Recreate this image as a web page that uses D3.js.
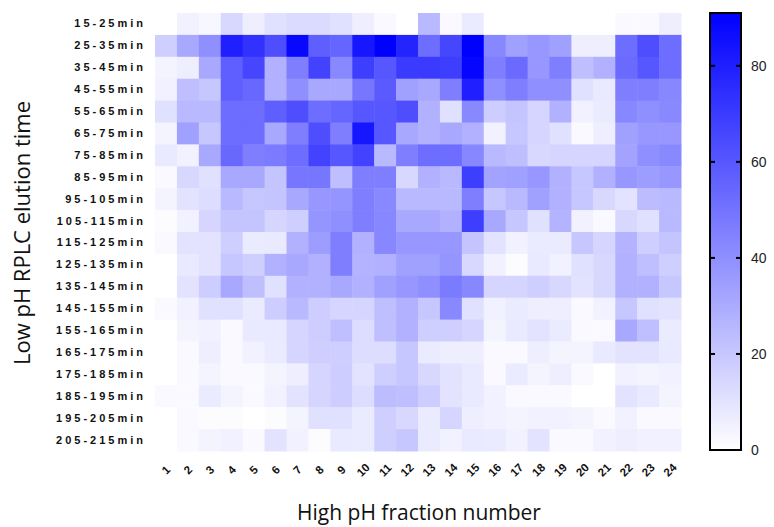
<!DOCTYPE html>
<html>
<head>
<meta charset="utf-8">
<script src="https://cdn.jsdelivr.net/npm/d3@7"></script>
<style>
    body { margin: 0; background: #fff; }
    svg { display: block; }
</style>
</head>
<body>
<div id="chart"></div>
<script>
// rows = low pH RPLC elution window, columns = high pH fraction
const rowLabels = ["15-25min","25-35min","35-45min","45-55min","55-65min","65-75min","75-85min",
    "85-95min","95-105min","105-115min","115-125min","125-135min","135-145min","145-155min",
    "155-165min","165-175min","175-185min","185-195min","195-205min","205-215min"];

const fractions = ["1","2","3","4","5","6","7","8","9","10","11","12",
    "13","14","15","16","17","18","19","20","21","22","23","24"];

const cbTicks = [0, 20, 40, 60, 80];
const cbMax = 91;

const values = [
    [0,5,3,14,6,11,13,13,11,6,2,0,25,2,7,0,0,0,0,0,0,2,2,6],
    [17,31,40,80,73,63,88,57,55,83,91,78,52,66,91,43,34,37,34,6,6,52,63,52],
    [4,6,31,57,66,28,46,67,42,69,60,70,70,69,89,46,53,37,46,23,28,53,60,52],
    [5,23,20,57,54,28,40,31,31,49,59,34,31,46,80,40,46,40,40,11,8,46,46,43],
    [11,25,25,52,52,57,63,52,55,60,60,63,28,11,42,18,21,15,28,5,7,43,40,42],
    [4,34,20,52,52,31,46,63,46,83,60,31,28,31,28,5,20,15,11,2,6,34,37,37],
    [8,5,31,54,46,47,52,67,60,67,25,46,52,52,43,25,23,14,15,15,15,33,40,42],
    [2,14,11,31,31,21,49,49,23,46,46,14,28,25,69,33,34,37,28,20,28,37,35,37],
    [4,10,12,25,20,21,31,37,38,46,42,25,25,25,46,20,25,34,28,20,14,10,24,25],
    [1,5,15,21,21,15,17,38,40,46,43,31,31,28,69,31,20,11,27,5,2,14,11,25],
    [2,10,10,17,7,8,28,35,46,28,43,37,37,37,21,10,5,7,7,20,15,27,17,21],
    [0,8,10,20,17,28,31,28,46,27,28,34,34,38,14,5,1,8,5,11,14,28,23,17],
    [0,10,18,31,23,11,28,28,31,28,34,37,40,47,43,15,15,17,14,10,14,28,28,20],
    [2,5,11,11,7,18,25,18,15,15,23,28,20,42,11,5,7,6,6,2,5,20,11,10],
    [0,4,5,2,8,8,15,18,23,12,23,28,17,17,15,4,8,10,7,2,2,31,23,7],
    [0,2,6,2,5,7,15,17,17,12,12,20,7,6,6,2,2,6,4,4,8,10,10,8],
    [0,2,4,2,2,4,6,15,18,10,17,20,14,10,8,2,7,4,6,2,0,5,4,5],
    [2,2,7,4,2,5,10,15,18,12,24,23,18,10,8,5,2,2,2,0,0,10,8,4],
    [0,2,1,1,0,1,4,11,11,7,17,14,7,15,6,5,4,5,5,4,2,5,2,2],
    [0,2,4,5,2,10,5,1,8,7,17,20,7,5,8,7,5,10,2,2,5,6,5,5]
];

const svgWidth = 774, svgHeight = 527;
const plot = {left: 155, right: 681, top: 13, bottom: 451};

const svg = d3.select("#chart").append("svg")
    .attr("width", svgWidth)
    .attr("height", svgHeight);

const xscale = d3.scaleBand()
    .domain(fractions)
    .range([plot.left, plot.right]);

const yscale = d3.scaleBand()
    .domain(rowLabels)
    .range([plot.top, plot.bottom]);

const colour = d3.scaleLinear()
    .domain([0, cbMax])
    .range(["#ffffff", "#0000ff"])
    .clamp(true);

const cells = [];
values.forEach((row, i) => {
    row.forEach((v, j) => {
        cells.push({row: rowLabels[i], col: fractions[j], v: v});
    });
});

svg.append("g")
    .attr("class", "cells")
    .selectAll("rect")
    .data(cells)
    .join("rect")
        .attr("x", d => xscale(d.col))
        .attr("y", d => yscale(d.row))
        .attr("width", xscale.bandwidth() + 0.5)
        .attr("height", yscale.bandwidth() + 0.5)
        .attr("fill", d => colour(d.v));

// row labels
const gY = svg.append("g")
    .attr("class", "axis-y")
    .attr("transform", `translate(${plot.left - 9},0)`)
    .call(d3.axisLeft(yscale).tickSize(0).tickPadding(0));
gY.select(".domain").remove();
gY.selectAll("text")
    .attr("font-family", "'Liberation Sans', Arial, sans-serif")
    .attr("font-size", 11)
    .attr("font-weight", "bold")
    .attr("letter-spacing", "3px")
    .attr("fill", "#111");

// fraction labels, tilted
const gX = svg.append("g")
    .attr("class", "axis-x")
    .attr("transform", `translate(0,${plot.bottom})`)
    .call(d3.axisBottom(xscale).tickSize(0).tickPadding(0));
gX.select(".domain").remove();
gX.selectAll("text")
    .attr("font-family", "'Liberation Sans', Arial, sans-serif")
    .attr("font-size", 11.5)
    .attr("font-weight", "bold")
    .attr("fill", "#111")
    .attr("dy", "0.35em")
    .attr("y", 0)
    .attr("text-anchor", "middle")
    .attr("transform", "translate(0,19) rotate(-45)");

svg.append("text")
    .attr("x", 419)
    .attr("y", 520)
    .attr("text-anchor", "middle")
    .attr("font-family", "'Open Sans', sans-serif")
    .attr("font-size", 21)
    .attr("fill", "#111")
    .text("High pH fraction number");

svg.append("text")
    .attr("transform", "translate(30,233) rotate(-90)")
    .attr("text-anchor", "middle")
    .attr("font-family", "'Open Sans', sans-serif")
    .attr("font-size", 22)
    .attr("fill", "#111")
    .text("Low pH RPLC elution time");

// colour bar
const cb = {x: 710, w: 31, top: 13, bottom: 450};
const cbScale = d3.scaleLinear()
    .domain([0, cbMax])
    .range([cb.bottom, cb.top]);

const grad = svg.append("defs").append("linearGradient")
    .attr("id", "cb-grad")
    .attr("x1", 0).attr("y1", 1)
    .attr("x2", 0).attr("y2", 0);
grad.append("stop").attr("offset", 0).attr("stop-color", colour(0));
grad.append("stop").attr("offset", 1).attr("stop-color", colour(cbMax));

svg.append("rect")
    .attr("x", cb.x)
    .attr("y", cb.top)
    .attr("width", cb.w)
    .attr("height", cb.bottom - cb.top)
    .attr("fill", "url(#cb-grad)")
    .attr("stroke", "#000")
    .attr("stroke-width", 2);

const gC = svg.append("g").attr("class", "cb-ticks");
gC.selectAll("line.l")
    .data(cbTicks.filter(t => t > 0))
    .join("line")
        .attr("class", "l")
        .attr("x1", cb.x).attr("x2", cb.x + 5)
        .attr("y1", d => cbScale(d)).attr("y2", d => cbScale(d))
        .attr("stroke", "#000").attr("stroke-width", 2);
gC.selectAll("line.r")
    .data(cbTicks.filter(t => t > 0))
    .join("line")
        .attr("class", "r")
        .attr("x1", cb.x + cb.w - 5).attr("x2", cb.x + cb.w)
        .attr("y1", d => cbScale(d)).attr("y2", d => cbScale(d))
        .attr("stroke", "#000").attr("stroke-width", 2);
gC.selectAll("text")
    .data(cbTicks)
    .join("text")
        .attr("x", 751)
        .attr("y", d => cbScale(d))
        .attr("dy", "0.36em")
        .attr("font-family", "'Liberation Sans', Arial, sans-serif")
        .attr("font-size", 14)
        .attr("fill", "#222")
        .text(d => d);
</script>
</body>
</html>
